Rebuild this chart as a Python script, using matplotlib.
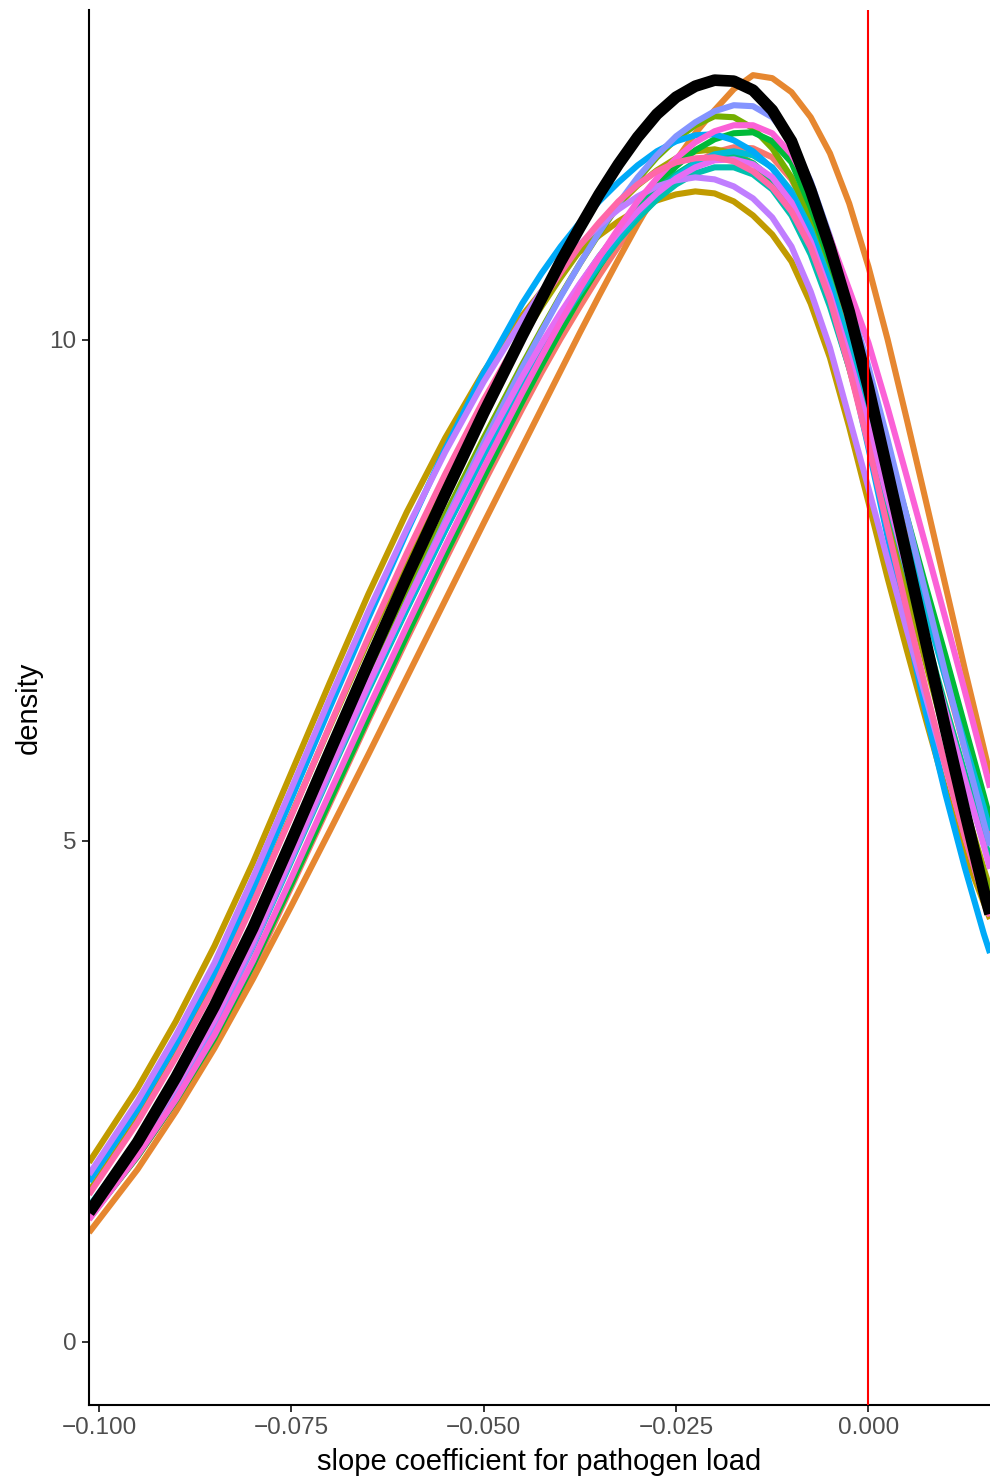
import matplotlib
matplotlib.use("Agg")
import matplotlib.pyplot as plt

plt.rcParams['font.family'] = ['Liberation Sans', 'DejaVu Sans']

x_grid = [-0.1013, -0.095, -0.090, -0.085, -0.080, -0.075, -0.070, -0.065, -0.060, -0.055, -0.050,
          -0.045, -0.0425, -0.040, -0.0375, -0.035, -0.0325, -0.030, -0.0275, -0.025, -0.0225,
          -0.020, -0.0175, -0.015, -0.0125, -0.010, -0.0075, -0.005, -0.0025, 0.000, 0.0025,
          0.005, 0.0075, 0.010, 0.0125, 0.015, 0.0158]

d_salmon = [1.24, 1.85, 2.40, 3.01, 3.72, 4.54, 5.37, 6.20, 7.01, 7.80, 8.57,
            9.31, 9.67, 10.01, 10.33, 10.64, 10.93, 11.19, 11.42, 11.61, 11.76, 11.87, 11.92, 11.91,
            11.82, 11.60, 11.23, 10.72, 10.12, 9.47, 8.78, 8.07, 7.35, 6.63, 5.92, 5.22, 5.00]
d_orange = [1.09, 1.72, 2.30, 2.93, 3.62, 4.35, 5.10, 5.86, 6.63, 7.40, 8.17,
            8.93, 9.31, 9.69, 10.07, 10.44, 10.80, 11.15, 11.48, 11.79, 12.06, 12.29, 12.50, 12.64,
            12.61, 12.47, 12.22, 11.86, 11.36, 10.73, 10.00, 9.20, 8.38, 7.55, 6.72, 5.92, 5.66]
d_gold = [1.79, 2.53, 3.20, 3.95, 4.78, 5.68, 6.58, 7.46, 8.28, 9.02, 9.68,
          10.24, 10.48, 10.70, 10.88, 11.04, 11.18, 11.30, 11.39, 11.45, 11.48, 11.46, 11.38, 11.24,
          11.05, 10.78, 10.36, 9.82, 9.13, 8.38, 7.62, 6.90, 6.20, 5.52, 4.88, 4.38, 4.22]
d_olive = [1.50, 2.22, 2.86, 3.57, 4.38, 5.26, 6.14, 7.00, 7.82, 8.60, 9.34,
           10.02, 10.33, 10.62, 10.89, 11.13, 11.35, 11.54, 11.69, 11.81, 11.88, 11.90, 11.86, 11.76,
           11.58, 11.30, 10.90, 10.37, 9.72, 9.00, 8.25, 7.50, 6.76, 6.04, 5.36, 4.72, 4.52]
d_olivegreen = [1.30, 1.96, 2.56, 3.23, 4.02, 4.90, 5.78, 6.63, 7.45, 8.25, 9.02,
                9.75, 10.10, 10.44, 10.76, 11.06, 11.34, 11.60, 11.82, 12.00, 12.14, 12.23, 12.22, 12.11,
                11.91, 11.62, 11.20, 10.62, 9.95, 9.22, 8.45, 7.66, 6.87, 6.10, 5.36, 4.66, 4.45]
d_green = [1.23, 1.85, 2.41, 3.03, 3.76, 4.57, 5.40, 6.23, 7.05, 7.85, 8.63,
           9.38, 9.74, 10.09, 10.42, 10.73, 11.02, 11.29, 11.53, 11.73, 11.89, 12.00, 12.06, 12.07,
           11.98, 11.77, 11.32, 10.78, 10.20, 9.58, 8.92, 8.23, 7.53, 6.85, 6.15, 5.45, 5.22]
d_seagreen = [1.32, 1.98, 2.57, 3.23, 4.00, 4.86, 5.72, 6.55, 7.36, 8.14, 8.89,
              9.60, 9.93, 10.25, 10.55, 10.83, 11.08, 11.31, 11.50, 11.65, 11.77, 11.83, 11.83, 11.76,
              11.60, 11.33, 10.93, 10.40, 9.78, 9.12, 8.43, 7.73, 7.03, 6.35, 5.68, 5.02, 4.82]
d_teal = [1.28, 1.94, 2.52, 3.17, 3.94, 4.80, 5.66, 6.50, 7.31, 8.10, 8.85,
          9.55, 9.87, 10.18, 10.47, 10.74, 10.99, 11.21, 11.40, 11.55, 11.66, 11.72, 11.72, 11.65,
          11.50, 11.24, 10.85, 10.33, 9.72, 9.07, 8.38, 7.68, 6.98, 6.30, 5.63, 4.97, 4.77]
d_cyan = [1.35, 2.00, 2.58, 3.23, 4.00, 4.85, 5.70, 6.52, 7.32, 8.10, 8.85,
          9.55, 9.88, 10.19, 10.49, 10.77, 11.03, 11.26, 11.46, 11.63, 11.76, 11.85, 11.88, 11.84,
          11.72, 11.48, 11.10, 10.58, 9.97, 9.32, 8.65, 7.97, 7.30, 6.63, 5.98, 5.33, 5.10]
d_blue = [1.60, 2.32, 2.97, 3.68, 4.52, 5.42, 6.33, 7.22, 8.08, 8.91, 9.67,
          10.36, 10.66, 10.93, 11.17, 11.38, 11.57, 11.74, 11.88, 11.98, 12.04, 12.05, 11.99, 11.88,
          11.71, 11.45, 11.05, 10.52, 9.78, 8.92, 8.03, 7.15, 6.27, 5.47, 4.74, 4.07, 3.88]
d_periwinkle = [1.26, 1.91, 2.50, 3.15, 3.95, 4.82, 5.68, 6.54, 7.38, 8.19, 8.97,
                9.72, 10.08, 10.43, 10.76, 11.07, 11.36, 11.62, 11.84, 12.03, 12.17, 12.28, 12.34, 12.33,
                12.22, 11.98, 11.58, 11.03, 10.40, 9.73, 9.00, 8.23, 7.45, 6.67, 5.92, 5.18, 4.95]
d_purple = [1.67, 2.40, 3.06, 3.78, 4.63, 5.52, 6.42, 7.29, 8.11, 8.88, 9.58,
            10.20, 10.48, 10.73, 10.95, 11.14, 11.30, 11.43, 11.53, 11.59, 11.62, 11.60, 11.53, 11.41,
            11.22, 10.93, 10.48, 9.92, 9.22, 8.52, 7.80, 7.10, 6.42, 5.74, 5.06, 4.42, 4.25]
d_magenta = [1.30, 1.96, 2.55, 3.21, 3.99, 4.85, 5.72, 6.56, 7.37, 8.16, 8.92,
             9.63, 9.96, 10.27, 10.56, 10.83, 11.07, 11.28, 11.46, 11.61, 11.72, 11.79, 11.80, 11.75,
             11.62, 11.37, 10.98, 10.45, 9.82, 9.14, 8.42, 7.70, 6.98, 6.30, 5.62, 4.95, 4.72]
d_pinkmagenta = [1.22, 1.86, 2.42, 3.06, 3.80, 4.63, 5.48, 6.32, 7.14, 7.94, 8.72,
                 9.47, 9.83, 10.18, 10.51, 10.82, 11.11, 11.38, 11.61, 11.81, 11.97, 12.08, 12.14, 12.14,
                 12.06, 11.85, 11.50, 11.02, 10.50, 9.97, 9.32, 8.63, 7.93, 7.22, 6.50, 5.77, 5.53]
d_pink = [1.47, 2.19, 2.84, 3.54, 4.37, 5.25, 6.15, 7.03, 7.87, 8.66, 9.40,
          10.07, 10.38, 10.67, 10.94, 11.17, 11.38, 11.55, 11.68, 11.77, 11.81, 11.82, 11.78, 11.68,
          11.52, 11.28, 10.92, 10.40, 9.72, 8.95, 8.12, 7.30, 6.50, 5.75, 5.05, 4.42, 4.25]

d_overall = [1.29, 1.99, 2.64, 3.35, 4.13, 5.00, 5.89, 6.77, 7.63, 8.46, 9.27,
             10.04, 10.41, 10.78, 11.12, 11.45, 11.75, 12.02, 12.25, 12.42, 12.53, 12.59, 12.58, 12.49,
             12.29, 11.98, 11.49, 10.92, 10.28, 9.52, 8.68, 7.83, 6.97, 6.12, 5.30, 4.50, 4.27]

group_colors = ['#F8766D', '#E68730', '#C19B00', '#A3A500', '#74AF00', '#00BA38',
                '#00BF7D', '#00C0AF', '#00BCD8', '#00AAF8', '#8494FF', '#C07EFF',
                '#E56DF4', '#FB61D7', '#FF67A8']
group_series = [d_salmon, d_orange, d_gold, d_olive, d_olivegreen, d_green,
                d_seagreen, d_teal, d_cyan, d_blue, d_periwinkle, d_purple,
                d_magenta, d_pinkmagenta, d_pink]

x_ticks = [-0.100, -0.075, -0.050, -0.025, 0.000]
x_ticklabels = ['\u22120.100', '\u22120.075', '\u22120.050', '\u22120.025', '0.000']
y_ticks = [0, 5, 10]
y_ticklabels = ['0', '5', '10']
ref_x = 0.0

W, H = 990, 1477
fig = plt.figure(figsize=(W / 100, H / 100), dpi=100)
ax = fig.add_axes([89 / W, 1 - 1405 / H, (W - 89) / W, (1405 - 10) / H])

for col, ys in zip(group_colors, group_series):
    ax.plot(x_grid, ys, color=col, lw=4.4, solid_capstyle='butt',
            solid_joinstyle='round', zorder=2)
ax.plot(x_grid, d_overall, color='black', lw=8.4, solid_capstyle='butt',
        solid_joinstyle='round', zorder=3)
ax.axvline(ref_x, color='#FF0000', lw=1.5, zorder=4)

ax.set_xlim(-0.1013, 0.0158)
ax.set_ylim(-0.63, 13.29)

ax.set_xticks(x_ticks)
ax.set_xticklabels(x_ticklabels)
ax.set_yticks(y_ticks)
ax.set_yticklabels(y_ticklabels)

for s in ['top', 'right']:
    ax.spines[s].set_visible(False)
for s in ['left', 'bottom']:
    ax.spines[s].set_linewidth(1.5)
    ax.spines[s].set_color('black')

ax.tick_params(axis='both', length=5, width=1.4, color='#333333',
               labelcolor='#4D4D4D', labelsize=17.5, pad=4)

ax.set_xlabel('slope coefficient for pathogen load', fontsize=21, color='black', labelpad=6)
ax.set_ylabel('density', fontsize=21, color='black', labelpad=5)

fig.savefig('out.png', dpi=100)
